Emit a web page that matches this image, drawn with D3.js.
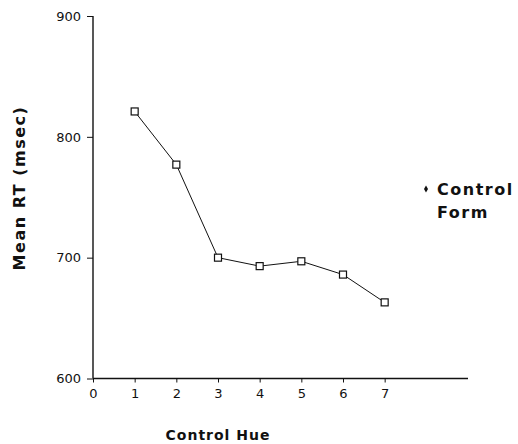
<!DOCTYPE html>
<html>
<head>
<meta charset="utf-8">
<script src="https://cdn.jsdelivr.net/npm/d3@7"></script>
<style>
  body { margin: 0; background: #fff; }
  text { font-family: "DejaVu Sans", sans-serif; fill: #111; }
</style>
</head>
<body>
<div id="chart"></div>
<script>
const hues = [1, 2, 3, 4, 5, 6, 7];
const meanRT = [821, 777, 700, 693, 697, 686, 663];
const xTicks = [0, 1, 2, 3, 4, 5, 6, 7];
const yTicks = [600, 700, 800, 900];

const chart_width = 518;
const chart_height = 444;

// plot area edges
const plot_left = 93, plot_right = 468, plot_top = 16, plot_bottom = 378.5;

const svg = d3.select('#chart')
    .append('svg')
    .attr('width', chart_width)
    .attr('height', chart_height);

const x_scale = d3.scaleLinear()
    .domain([0, 9])
    .range([plot_left, plot_right]);

const y_scale = d3.scaleLinear()
    .domain([600, 900])
    .range([plot_bottom, plot_top]);

// axes
const x_axis = svg.append('g')
    .attr('transform', `translate(0,${plot_bottom})`)
    .call(d3.axisBottom(x_scale).tickValues(xTicks).tickSize(4).tickPadding(6).tickFormat(d3.format('d')));
x_axis.select('.domain').attr('d', `M${plot_left},0H${plot_right}`).attr('stroke', '#111').attr('stroke-width', 1.4);

const y_axis = svg.append('g')
    .attr('transform', `translate(${plot_left},0)`)
    .call(d3.axisLeft(y_scale).tickValues(yTicks).tickSize(6).tickPadding(6));
y_axis.select('.domain').attr('d', `M0,${plot_top}V${plot_bottom}`).attr('stroke', '#111').attr('stroke-width', 1.4);

svg.selectAll('.tick line').attr('stroke', '#111');
svg.selectAll('.tick text')
    .attr('font-size', 13)
    .attr('font-family', 'DejaVu Sans, sans-serif')
    .attr('fill', '#111');

// line
const line = d3.line()
    .x((d, i) => x_scale(hues[i]))
    .y(d => y_scale(d));

svg.append('path')
    .datum(meanRT)
    .attr('d', line)
    .attr('fill', 'none')
    .attr('stroke', '#111')
    .attr('stroke-width', 1);

// square markers
svg.selectAll('rect.pt')
    .data(meanRT)
    .enter()
    .append('rect')
    .attr('class', 'pt')
    .attr('x', (d, i) => x_scale(hues[i]) - 3.5)
    .attr('y', d => y_scale(d) - 3.5)
    .attr('width', 7)
    .attr('height', 7)
    .attr('fill', '#fff')
    .attr('stroke', '#111')
    .attr('stroke-width', 1.2);

// axis titles
svg.append('text')
    .attr('x', 218)
    .attr('y', 440)
    .attr('text-anchor', 'middle')
    .attr('font-size', 14)
    .attr('font-weight', 'bold')
    .attr('letter-spacing', 1)
    .text('Control Hue');

svg.append('text')
    .attr('transform', 'translate(25,188) rotate(-90)')
    .attr('text-anchor', 'middle')
    .attr('font-size', 16)
    .attr('font-weight', 'bold')
    .attr('letter-spacing', 1.5)
    .text('Mean RT (msec)');

// legend
svg.append('path')
    .attr('d', d3.symbol(d3.symbolDiamond, 14)())
    .attr('transform', 'translate(426,189)')
    .attr('fill', '#111');

svg.append('text')
    .attr('x', 437)
    .attr('y', 195)
    .attr('font-size', 16)
    .attr('font-weight', 'bold')
    .attr('letter-spacing', 1.5)
    .text('Control');

svg.append('text')
    .attr('x', 437)
    .attr('y', 218)
    .attr('font-size', 16)
    .attr('font-weight', 'bold')
    .attr('letter-spacing', 1.5)
    .text('Form');
</script>
</body>
</html>
